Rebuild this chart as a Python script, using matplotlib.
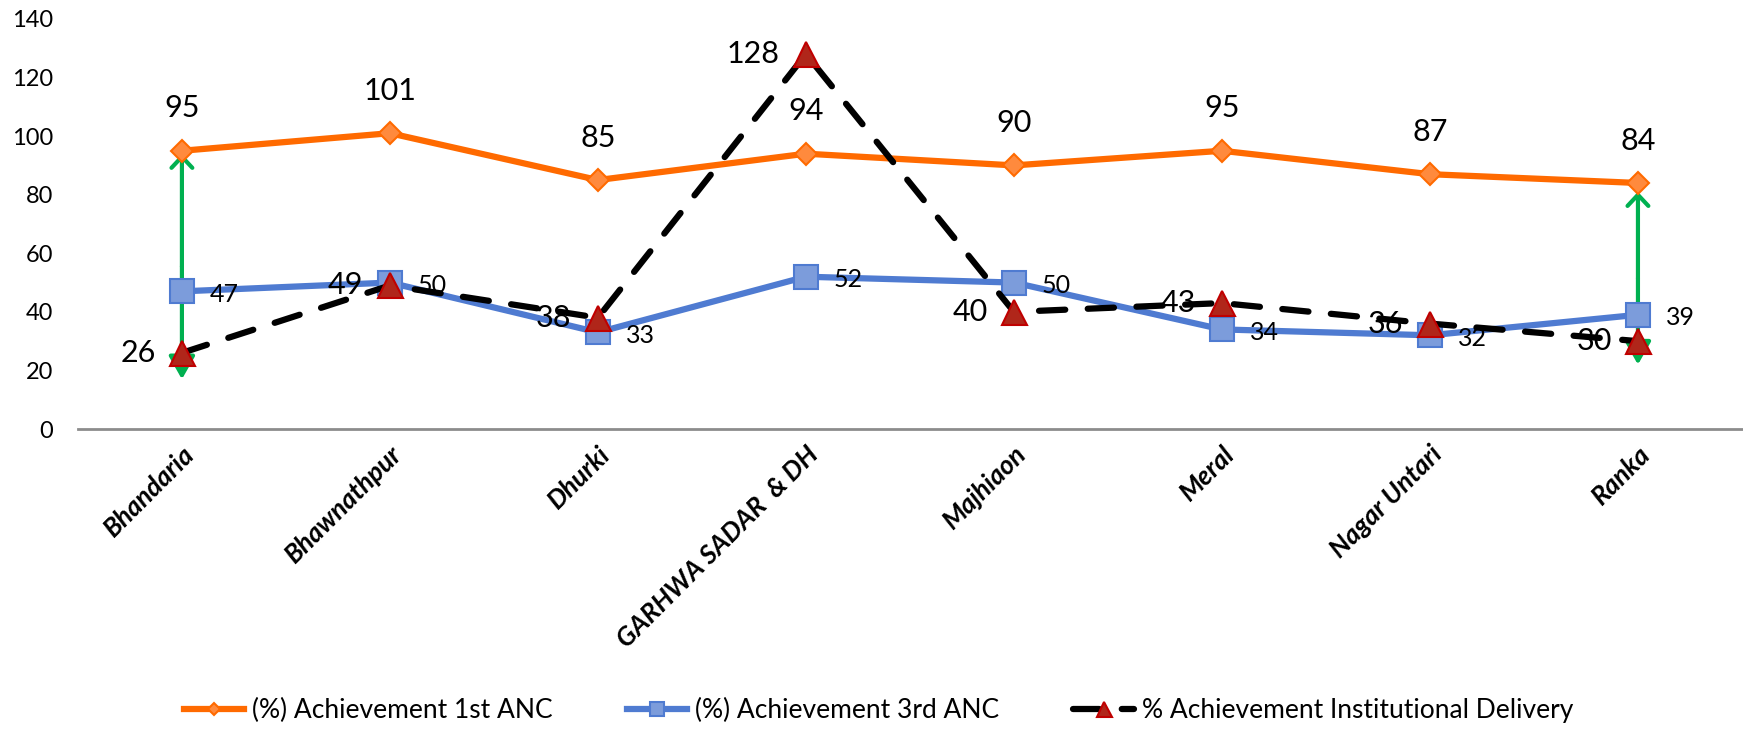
import matplotlib.pyplot as plt
import matplotlib.transforms as mtransforms
import numpy as np

plt.rcParams['font.family'] = ['Lato', 'DejaVu Sans']

# Block-wise data
blocks = ['Bhandaria', 'Bhawnathpur', 'Dhurki', 'GARHWA SADAR  & DH',
          'Majhiaon', 'Meral', 'Nagar Untari', 'Ranka']
anc1 = [95, 101, 85, 94, 90, 95, 87, 84]
anc3 = [47, 50, 33, 52, 50, 34, 32, 39]
inst_delivery = [26, 49, 38, 128, 40, 43, 36, 30]

# Green gap arrows drawn on the chart (block index, low end, high end)
arrow_blocks = [0, 7]
arrow_low = [17, 22]
arrow_high = [94, 81]

x = np.arange(len(blocks))

fig = plt.figure(figsize=(17.43, 7.29), dpi=100)
ax = fig.add_axes([0.0447, 0.4115, 0.9547, 0.5625])

# arrows first so the markers sit on top
for b, lo, hi in zip(arrow_blocks, arrow_low, arrow_high):
    mid = (lo + hi) / 2
    ax.annotate('', xy=(b, lo), xytext=(b, mid),
                arrowprops=dict(arrowstyle='-|>,head_length=1.4,head_width=0.8',
                                color='#00B050', lw=3, shrinkA=0, shrinkB=0,
                                mutation_scale=10),
                zorder=1)
    ax.annotate('', xy=(b, hi), xytext=(b, mid),
                arrowprops=dict(arrowstyle='->,head_length=0.8,head_width=0.75',
                                color='#00B050', lw=3, shrinkA=0, shrinkB=0,
                                mutation_scale=10, capstyle='round',
                                joinstyle='round'),
                zorder=1)

ax.plot(x, anc1, color='#FF6A00', lw=4.5, marker='D', markersize=11,
        markerfacecolor='#FF8A3D', markeredgecolor='#FF6A00', markeredgewidth=1.5,
        label='(%) Achievement 1st ANC', zorder=3)
ax.plot(x, anc3, color='#4F7BD1', lw=4.5, marker='s', markersize=17,
        markerfacecolor='#7C9CDB', markeredgecolor='#4F7BD1', markeredgewidth=1.5,
        label='(%) Achievement 3rd ANC', zorder=4)
ax.plot(x, inst_delivery, color='black', lw=4.5, dashes=(4.2, 3.6),
        dash_capstyle='round', marker='^', markersize=18,
        markerfacecolor='#B0261A', markeredgecolor='#C00000', markeredgewidth=1.5,
        label='% Achievement Institutional Delivery', zorder=5)

# data labels
for xi, v in zip(x, anc1):
    ax.annotate(f'{v}', (xi, v), xytext=(0, 24), textcoords='offset points',
                ha='center', va='baseline', fontsize=22, zorder=6)
for xi, v in zip(x, anc3):
    ax.annotate(f'{v}', (xi, v), xytext=(20, -2), textcoords='offset points',
                ha='left', va='center', fontsize=18, zorder=6)
for xi, v in zip(x, inst_delivery):
    ax.annotate(f'{v}', (xi, v), xytext=(-19, 0), textcoords='offset points',
                ha='right', va='center', fontsize=22, zorder=6)

ax.set_xlim(-0.5, len(blocks) - 0.5)
ax.set_ylim(0, 140)
ax.set_yticks(np.arange(0, 141, 20))
ax.set_xticks(x)
ax.set_xticklabels(blocks, rotation=45, ha='right', va='top',
                   rotation_mode='anchor', fontsize=19,
                   fontweight='bold', fontstyle='italic')
shift = mtransforms.ScaledTranslation(-10 / 100, 0, fig.dpi_scale_trans)
for lbl in ax.get_xticklabels():
    lbl.set_transform(lbl.get_transform() + shift)
ax.tick_params(axis='y', length=0, pad=18, labelsize=17)
ax.tick_params(axis='x', length=0, pad=9)

for side in ['top', 'right', 'left']:
    ax.spines[side].set_visible(False)
ax.spines['bottom'].set_color('#8C8C8C')
ax.spines['bottom'].set_linewidth(2)

fig.legend(loc='center', bbox_to_anchor=(0.504, 0.025), ncol=3, frameon=False,
           fontsize=19, handlelength=2.3, handletextpad=0.3, columnspacing=2.8,
           markerscale=0.6)

plt.savefig('out.png', dpi=100)
